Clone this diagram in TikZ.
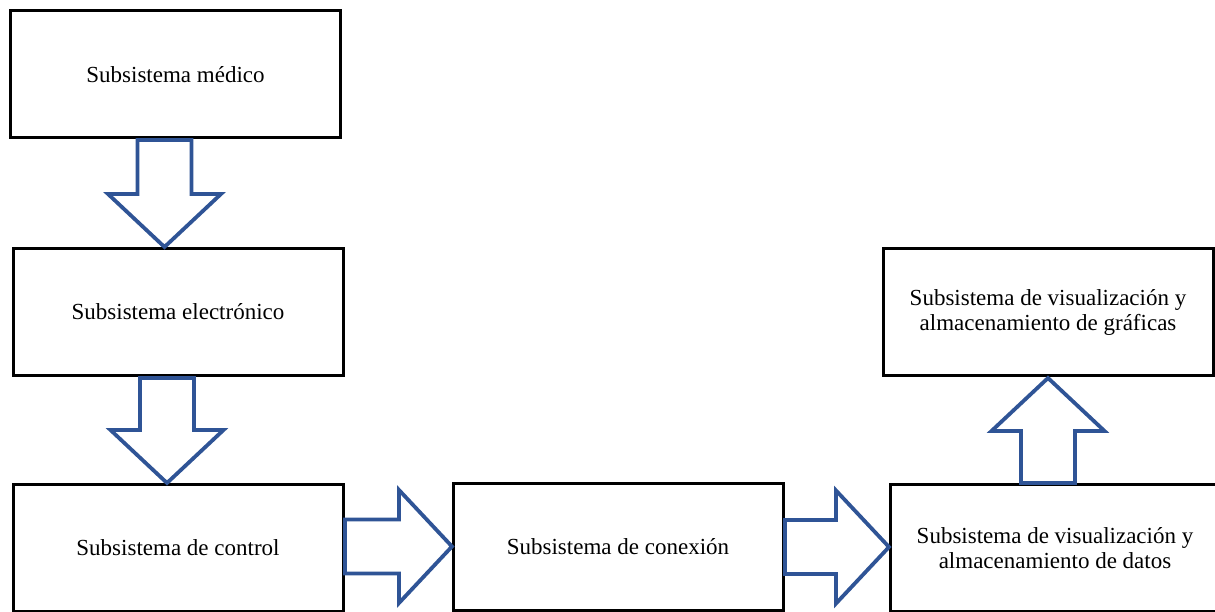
\documentclass[tikz,border=0pt]{standalone}
\usepackage{fontspec}
\setmainfont{Liberation Serif}
\definecolor{arrowblue}{RGB}{47,84,150}
\tikzset{
  box/.style={draw=black, line width=3pt, fill=white, align=center,
    inner sep=0pt, minimum width=330pt, minimum height=127pt,
    font=\fontsize{23}{25}\selectfont},
  blk/.style={draw=arrowblue, line width=3.8pt, fill=white, line join=miter},
  % block arrow pointing along +x, tail at the origin, total length #1
  pics/blockarrow/.style={code={
    \draw[blk] (0,-27) -- (#1-53,-27) -- (#1-53,-56.5) -- (#1,0)
      -- (#1-53,56.5) -- (#1-53,27) -- (0,27) -- cycle;}}
}
\begin{document}
\begin{tikzpicture}[x=1pt,y=-1pt]
  \useasboundingbox (0,0) rectangle (1215,612);
  \clip (0,0) rectangle (1215,612);

  % subsystem blocks
  \node[box] (med)  at (175.5,74.5) {Subsistema médico};
  \node[box] (elec) at (178,312)    {Subsistema electrónico};
  \node[box] (ctrl) at (178,548)    {Subsistema de control};
  \node[box] (con)  at (618,547)    {Subsistema de conexión};
  \node[box] (dat)  at (1055,548)   {Subsistema de visualización y\\almacenamiento de datos};
  \node[box] (graf) at (1048,312)   {Subsistema de visualización y\\almacenamiento de gráficas};

  % block arrows between the subsystems
  \pic[rotate=-90] at (164.5,140) {blockarrow=107};
  \pic[rotate=-90] at (167,378)   {blockarrow=105};
  \pic             at (345,546.5) {blockarrow=107};
  \pic             at (785,547)   {blockarrow=104};
  \pic[rotate=90]  at (1048,483)  {blockarrow=105};
\end{tikzpicture}
\end{document}
